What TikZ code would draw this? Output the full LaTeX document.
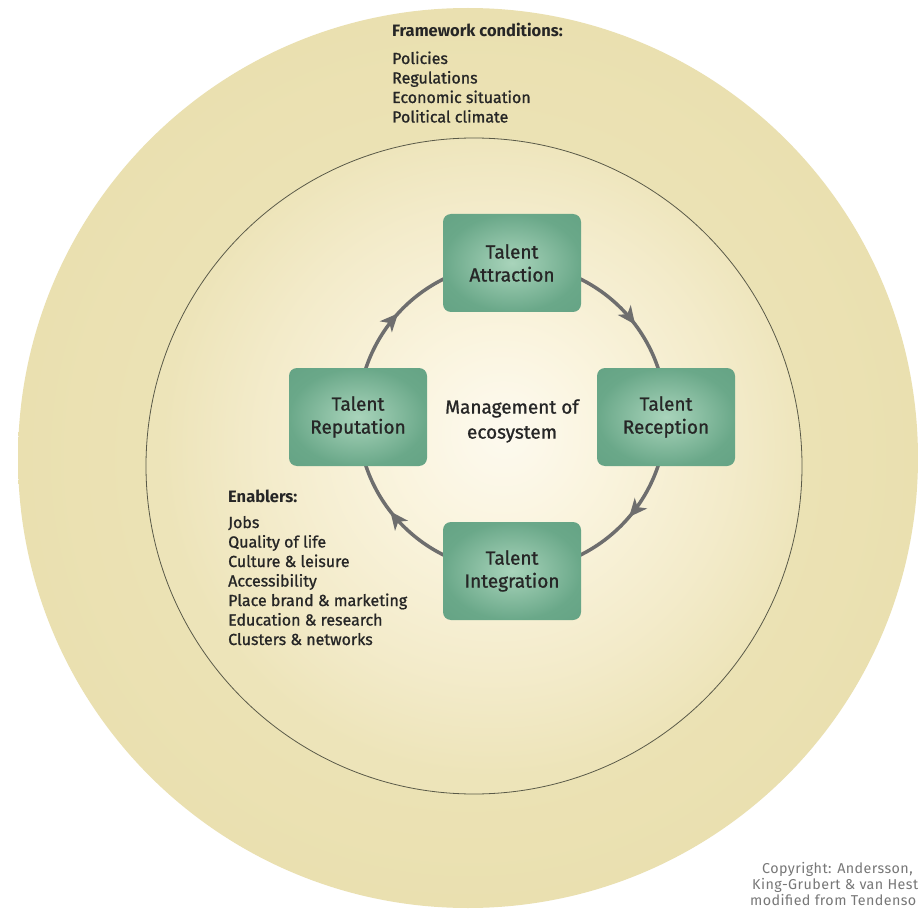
\documentclass[tikz,border=0pt]{standalone}
\usepackage{fontspec}
\setmainfont{Fira Sans}
\newfontfamily\medf{Fira Sans}[FakeBold=1.0]
\newfontfamily\cpf{Fira Sans}[LetterSpace=3]
\usetikzlibrary{arrows.meta,decorations.markings}
\definecolor{ringA}{HTML}{EFE7C0}
\definecolor{ringB}{HTML}{EAE0B0}
\definecolor{inA}{HTML}{FDFAEF}
\definecolor{inB}{HTML}{FAF4DE}
\definecolor{inC}{HTML}{F3EBCA}
\definecolor{inD}{HTML}{EDE4B9}
\definecolor{bxA}{HTML}{A9D4BB}
\definecolor{bxB}{HTML}{6AA889}
\definecolor{bxC}{HTML}{5E9D7F}
\definecolor{txt}{HTML}{262626}
\definecolor{arcc}{HTML}{6E6E6E}
\definecolor{linec}{HTML}{5A5A48}
\definecolor{cpc}{HTML}{777777}
\pgfdeclareradialshading{outerbg}{\pgfpoint{0bp}{0bp}}{color(0bp)=(ringA); color(25bp)=(ringB); color(50bp)=(ringB)}
\pgfdeclareradialshading{innerbg}{\pgfpoint{2.4bp}{2.7bp}}{color(0bp)=(inA); color(8bp)=(inB); color(18bp)=(inC); color(25bp)=(inD); color(50bp)=(inD)}
\pgfdeclareradialshading{boxsh}{\pgfpoint{0bp}{0bp}}{color(0bp)=(bxA); color(25bp)=(bxB); color(50bp)=(bxC)}
\pgfdeclarelayer{bg}
\pgfdeclarelayer{arcs}
\pgfsetlayers{bg,arcs,main}
\tikzset{
  tbox/.style={rectangle, rounded corners=8pt, minimum width=138pt, minimum height=98pt,
    inner sep=0pt, shade, shading=boxsh, text=txt, align=center,
    font=\medf\fontsize{19}{23}\selectfont},
  conn/.style={draw=arcc, line width=3.5pt},
  midarrow/.style={postaction={decorate}, decoration={markings,
    mark=at position #1 with {\arrow[arcc]{Stealth[length=18pt,width=16pt,inset=5pt]}}}},
  hd/.style={inner sep=0pt, anchor=base west, text=txt, font=\bfseries\fontsize{16.5}{19}\selectfont},
  itm/.style={inner sep=0pt, anchor=base west, text=txt, font=\medf\fontsize{16}{19}\selectfont},
  mtext/.style={inner sep=0pt, align=center, text=txt, font=\medf\fontsize{19}{25}\selectfont},
  cptext/.style={inner sep=0pt, anchor=base west, text=cpc, font=\cpf\fontsize{14.3}{16}\selectfont}
}
\begin{document}
\begin{tikzpicture}[x=1pt,y=-1pt]
\useasboundingbox (0,0) rectangle (919,912);
\clip (0,0) rectangle (919,912);
\begin{pgfonlayer}{bg}
  \fill[white] (0,0) rectangle (919,912);
  \shade[shading=outerbg] (468,458) circle[radius=450];
  \shadedraw[shading=innerbg, draw=linec, line width=0.8pt] (474,466) circle[radius=328];
\end{pgfonlayer}
% cycle boxes
\node[tbox] (att) at (512,263) {Talent\\Attraction};
\node[tbox] (rec) at (666,417) {Talent\\Reception};
\node[tbox] (int) at (512,571) {Talent\\Integration};
\node[tbox] (rep) at (358,417) {Talent\\Reputation};
\node[mtext] (mgmt) at (512,421) {Management of\\ecosystem};
\begin{pgfonlayer}{arcs}
  \draw[conn, midarrow=0.59] (att.center) arc[start angle=-90, end angle=0, radius=154];
  \draw[conn, midarrow=0.45] (rec.center) arc[start angle=0, end angle=90, radius=154];
  \draw[conn, midarrow=0.58] (int.center) arc[start angle=90, end angle=180, radius=154];
  \draw[conn, midarrow=0.47] (rep.center) arc[start angle=180, end angle=270, radius=154];
\end{pgfonlayer}
% framework conditions
\node[hd] (fwh) at (392,37) {Framework conditions:};
\foreach \t [count=\i] in {Policies, Regulations, Economic situation, Political climate}
  \node[itm] (fw\i) at (392,{44.5+19.5*\i}) {\t};
% enablers
\node[hd] (enh) at (228,502) {Enablers:};
\foreach \t [count=\i] in {Jobs, Quality of life, Culture \& leisure, Accessibility, Place brand \& marketing, Education \& research, Clusters \& networks}
  \node[itm] (en\i) at (228,{508.5+19.5*\i}) {\t};
% copyright
\node[cptext] (cp1) at (762,873) {Copyright: Andersson,};
\node[cptext] (cp2) at (752,889) {King-Grubert \& van Hest};
\node[cptext] (cp3) at (750,905) {modified from Tendenso};
\end{tikzpicture}
\end{document}
